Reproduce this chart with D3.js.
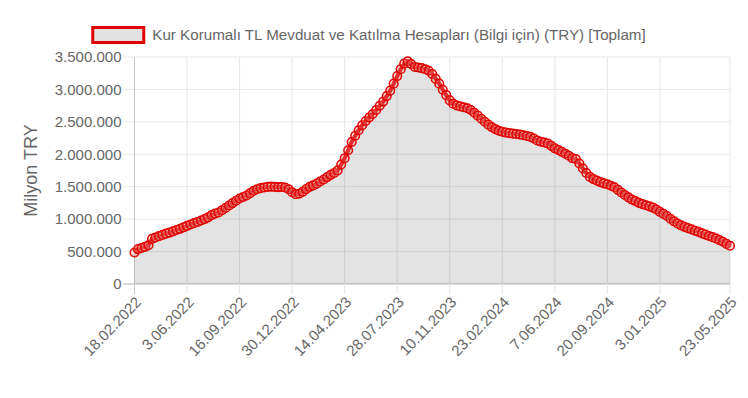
<!DOCTYPE html>
<html>
<head>
<meta charset="utf-8">
<script src="https://cdn.jsdelivr.net/npm/d3@7"></script>
<style>
  body { margin: 0; background: #fff; }
  svg text { font-family: "Liberation Sans", Arial, Helvetica, sans-serif; fill: #666; }
</style>
</head>
<body>
<div id="chart"></div>
<script>
// weekly figures, million TRY, starting 18.02.2022 (Fridays)
const firstWeek = new Date(2022, 1, 18);

const kkmValues = [
  485000, 538000, 556000, 572000, 598000, 695000, 718000, 738000, 757000, 776000,
  792000, 812000, 833000, 851000, 874000, 896000, 918000, 938000, 957000, 979000,
  1001000, 1028000, 1062000, 1085000, 1102000, 1138000, 1172000, 1210000, 1247000, 1283000,
  1318000, 1342000, 1365000, 1401000, 1438000, 1462000, 1478000, 1489000, 1497000, 1501000,
  1498000, 1494000, 1496000, 1488000, 1462000, 1415000, 1383000, 1392000, 1421000, 1463000,
  1498000, 1521000, 1547000, 1580000, 1612000, 1648000, 1683000, 1712000, 1751000, 1842000,
  1940000, 2063000, 2190000, 2286000, 2371000, 2447000, 2514000, 2568000, 2621000, 2683000,
  2748000, 2812000, 2897000, 2981000, 3089000, 3206000, 3312000, 3398000, 3432000, 3391000,
  3345000, 3339000, 3328000, 3312000, 3288000, 3238000, 3162000, 3089000, 2995000, 2912000,
  2831000, 2779000, 2752000, 2738000, 2726000, 2709000, 2683000, 2641000, 2596000, 2548000,
  2502000, 2458000, 2419000, 2388000, 2364000, 2347000, 2335000, 2326000, 2318000, 2312000,
  2306000, 2294000, 2283000, 2268000, 2243000, 2212000, 2194000, 2181000, 2167000, 2130000,
  2092000, 2066000, 2038000, 2009000, 1977000, 1941000, 1928000, 1858000, 1781000, 1712000,
  1651000, 1618000, 1594000, 1571000, 1552000, 1538000, 1516000, 1491000, 1452000, 1411000,
  1372000, 1336000, 1302000, 1278000, 1251000, 1232000, 1214000, 1197000, 1178000, 1148000,
  1112000, 1081000, 1049000, 1006000, 966000, 932000, 905000, 881000, 862000, 843000,
  821000, 803000, 781000, 762000, 741000, 722000, 702000, 677000, 651000, 618000,
  589000
];

const xTickLabels = ['18.02.2022', '3.06.2022', '16.09.2022', '30.12.2022', '14.04.2023',
  '28.07.2023', '10.11.2023', '23.02.2024', '7.06.2024', '20.09.2024', '3.01.2025', '23.05.2025'];

const yTicks = [0, 500000, 1000000, 1500000, 2000000, 2500000, 3000000, 3500000];

const seriesName = 'Kur Korumalı TL Mevduat ve Katılma Hesapları (Bilgi için) (TRY) [Toplam]';
const yTitle = 'Milyon TRY';

const W = 748, H = 398;
const margin = { top: 57, right: 18, bottom: 114, left: 134.5 };
const width = W - margin.left - margin.right;
const height = H - margin.top - margin.bottom;

const fmtDate = d3.timeFormat('%-d.%m.%Y');
const fmtNum = (v) => d3.format(',')(v).replace(/,/g, '.');

const labels = kkmValues.map((v, i) => fmtDate(d3.timeDay.offset(firstWeek, 7 * i)));
const data = kkmValues.map((v, i) => ({ label: labels[i], value: v }));

const svg = d3.select('#chart').append('svg')
  .attr('width', W)
  .attr('height', H);

const g = svg.append('g')
  .attr('transform', `translate(${margin.left},${margin.top})`);

const x = d3.scalePoint().domain(labels).range([0, width]);
const y = d3.scaleLinear().domain([0, 3500000]).range([height, 0]);

// grid lines (horizontal + vertical), tick marks stick out a bit
g.append('g').selectAll('line')
  .data(yTicks).enter()
  .append('line')
  .attr('x1', -11).attr('x2', width)
  .attr('y1', (d) => y(d)).attr('y2', (d) => y(d))
  .attr('stroke', (d) => (d === 0 ? '#b4b4b4' : '#e8e8e8'))
  .attr('stroke-width', 1);

g.append('g').selectAll('line')
  .data(xTickLabels).enter()
  .append('line')
  .attr('x1', (d) => x(d)).attr('x2', (d) => x(d))
  .attr('y1', 0).attr('y2', height + 10)
  .attr('stroke', (d, i) => (i === 0 ? '#c8c8c8' : '#e6e6e6'))
  .attr('stroke-width', 1);

// area + line
g.append('path')
  .datum(data)
  .attr('d', d3.area().x((d) => x(d.label)).y0(y(0)).y1((d) => y(d.value)))
  .attr('fill', 'rgba(0,0,0,0.11)');

g.append('path')
  .datum(data)
  .attr('d', d3.line().x((d) => x(d.label)).y((d) => y(d.value)))
  .attr('fill', 'none')
  .attr('stroke', '#e20000')
  .attr('stroke-width', 4);

g.append('g').selectAll('circle')
  .data(data).enter()
  .append('circle')
  .attr('cx', (d) => x(d.label))
  .attr('cy', (d) => y(d.value))
  .attr('r', 4.3)
  .attr('fill', 'rgba(230,150,150,0.3)')
  .attr('stroke', '#e20000')
  .attr('stroke-width', 1.5);

// y axis labels
g.append('g')
  .call(d3.axisLeft(y).tickValues(yTicks).tickSize(0).tickPadding(13).tickFormat(fmtNum))
  .call((a) => a.select('.domain').remove())
  .selectAll('text')
  .style('font-size', '15px');

// x axis labels, rotated
g.append('g')
  .attr('transform', `translate(0,${height})`)
  .call(d3.axisBottom(x).tickValues(xTickLabels).tickSize(0))
  .call((a) => a.select('.domain').remove())
  .selectAll('text')
  .style('font-size', '15px')
  .style('text-anchor', 'end')
  .attr('dy', 0)
  .attr('transform', 'translate(5,17) rotate(-46)');

// y axis title
svg.append('text')
  .attr('transform', `translate(37,${margin.top + height / 2}) rotate(-90)`)
  .style('text-anchor', 'middle')
  .style('font-size', '18px')
  .text(yTitle);

// legend, a bit left of the canvas centre like the original
const legend = svg.append('g');
const legendText = legend.append('text')
  .attr('x', 61).attr('y', 40)
  .style('font-size', '15.2px')
  .text(seriesName);
legend.append('rect')
  .attr('x', 1.5).attr('y', 27.5)
  .attr('width', 51).attr('height', 15)
  .attr('fill', '#e2e2e2')
  .attr('stroke', '#e20000')
  .attr('stroke-width', 3);
const legendW = 61 + legendText.node().getComputedTextLength();
legend.attr('transform', `translate(${(W - 11 - legendW) / 2},0)`);
</script>
</body>
</html>
